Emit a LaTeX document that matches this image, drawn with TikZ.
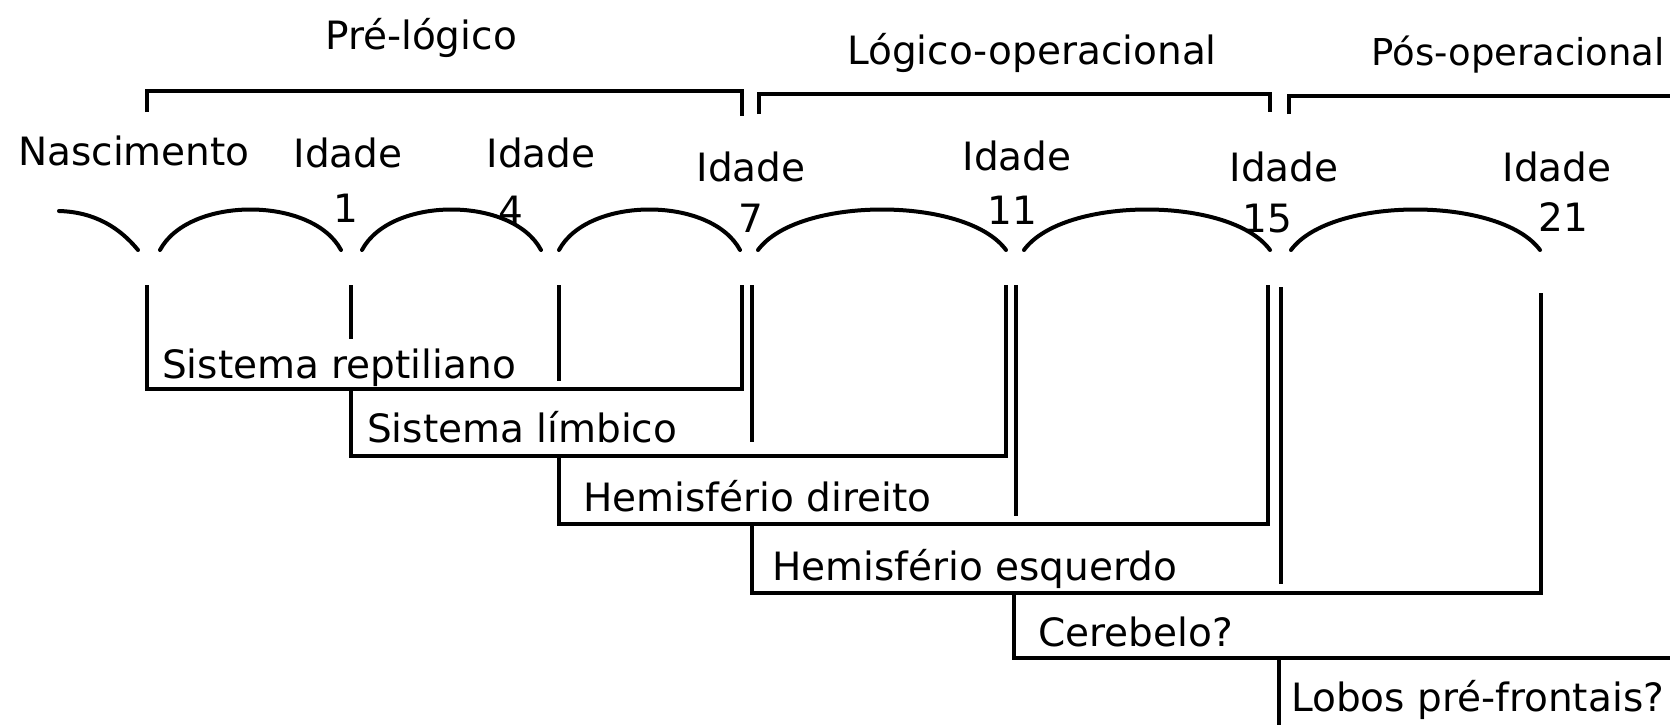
\documentclass[tikz,border=0pt]{standalone}
\usepackage{fontspec}
\newfontfamily\lblfont{DejaVu Sans}
\tikzset{
  thickline/.style={line width=4.4pt, line join=miter, line cap=butt},
  arcline/.style={line width=4pt, line cap=round},
  lbl/.style={inner sep=0pt, font=\lblfont\fontsize{39}{41}\selectfont},
  num/.style={inner sep=0pt, font=\lblfont\fontsize{39}{41}\selectfont},
}
\newcommand\domearc[2]{\draw[arcline] (#1,250) .. controls ({#1+0.16*(#2-#1)},196) and ({#2-0.16*(#2-#1)},196) .. (#2,250);}
\begin{document}
\begin{tikzpicture}[x=1pt,y=-1pt]
\useasboundingbox (0,0) rectangle (1670,725);
\clip (0,0) rectangle (1670,725);
\fill[white] (0,0) rectangle (1670,725);
% stage titles
\node[lbl, anchor=base] (pre) at (421,50) {Pré-lógico};
\node[lbl, anchor=base] (log) at (1032,64) {Lógico-operacional};
\node[lbl, anchor=base east, font=\lblfont\fontsize{37}{39}\selectfont] (pos) at (1665,66) {Pós-operacional};
% brackets
\draw[thickline] (147,112) -- (147,91) -- (742,91) -- (742,116);
\draw[thickline] (759,114) -- (759,94) -- (1270,94) -- (1270,112);
\draw[thickline] (1289,114) -- (1289,96) -- (1680,96);
% age labels
\node[lbl, anchor=base] (nasc) at (134,165) {Nascimento};
\node[lbl, anchor=base] (i1) at (348,167) {Idade};
\node[lbl, anchor=base] (i4) at (541,167) {Idade};
\node[lbl, anchor=base] (i7) at (751,181) {Idade};
\node[lbl, anchor=base] (i11) at (1017,170) {Idade};
\node[lbl, anchor=base] (i15) at (1284,181) {Idade};
\node[lbl, anchor=base] (i21) at (1557,181) {Idade};
\node[num, anchor=base] (n1) at (346,222) {1};
\node[num, anchor=base] (n4) at (511,224) {4};
\node[num, anchor=base] (n7) at (751,232) {7};
\node[num, anchor=base] (n11) at (1012,224) {11};
\node[num, anchor=base] (n15) at (1267,232) {15};
\node[num, anchor=base] (n21) at (1563,231) {21};
% arcs
\draw[arcline] (59,211) .. controls (95,212) and (120,228) .. (138,250);
\domearc{160}{341}
\domearc{362}{541}
\domearc{559}{740}
\domearc{758}{1006}
\domearc{1024}{1270}
\domearc{1291}{1540}
% brain systems
\draw[thickline] (147,285) -- (147,389) -- (742,389) -- (742,285);
\node[lbl, anchor=base west] (rep) at (162,378) {Sistema reptiliano};
\draw[thickline] (351,285) -- (351,339);
\draw[thickline] (351,389) -- (351,456) -- (1006,456) -- (1006,285);
\node[lbl, anchor=base west] (lim) at (367,442) {Sistema límbico};
\draw[thickline] (559,285) -- (559,381);
\draw[thickline] (559,456) -- (559,524) -- (1268,524) -- (1268,285);
\node[lbl, anchor=base west] (dir) at (583,511) {Hemisfério direito};
\draw[thickline] (752,285) -- (752,442);
\draw[thickline] (752,524) -- (752,593) -- (1541,593) -- (1541,293);
\node[lbl, anchor=base west] (esq) at (772,580) {Hemisfério esquerdo};
\draw[thickline] (1016,285) -- (1016,516);
\draw[thickline] (1014,593) -- (1014,658) -- (1680,658);
\node[lbl, anchor=base west] (cer) at (1038,646) {Cerebelo?};
\draw[thickline] (1281,287) -- (1281,584);
\draw[thickline] (1279,658) -- (1279,740);
\node[lbl, anchor=base west] (lob) at (1291,711) {Lobos pré-frontais?};
\end{tikzpicture}
\end{document}
